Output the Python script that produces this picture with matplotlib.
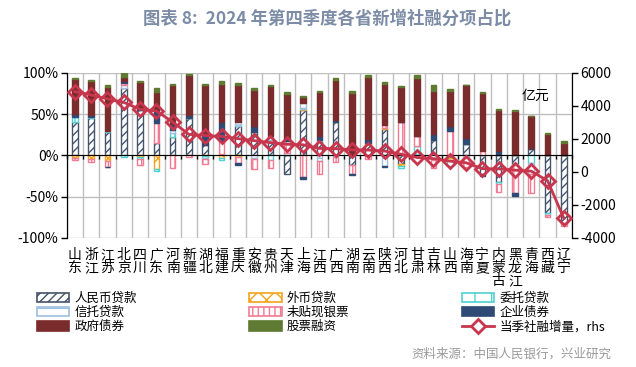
import numpy as np
import matplotlib
matplotlib.use('Agg')
import matplotlib.pyplot as plt
from matplotlib.patches import Patch
from matplotlib.lines import Line2D

plt.rcParams['font.family'] = ['Noto Sans CJK SC', 'DejaVu Sans']
plt.rcParams['axes.unicode_minus'] = False
plt.rcParams['hatch.linewidth'] = 1.0

# Data (share of new social financing, %; line in 亿元)
provinces = ['山东', '浙江', '江苏', '北京', '四川', '广东', '河南', '新疆', '湖北', '福建',
             '重庆', '安徽', '贵州', '天津', '上海', '江西', '广西', '湖南', '云南', '陕西',
             '河北', '甘肃', '吉林', '山西', '海南', '宁夏', '内蒙古', '黑龙江', '青海', '西藏', '辽宁']
rmb_loans = [41, 46, 28, 82, 55, 15, 22.5, 45, 13, 2, 36, 29, 19, -23, 55, 17, 40, -12, 14, 32,
             -10, 2, 19, -3, 14, -22, -32, -10, 8, -70, -82]
fx_loans = [-3, -4.5, -6.5, 0, -2, -16, 0, 0, -1, -3, -2, 0, 0, 0, 1.5, 0, 0, 0, 1, 1,
            -3, 0, 0, -3, 0, 0, 0, 0, 0, 0, 0]
entrusted = [6, 1, 1.5, -2, -2, -3, 5, 0, -2, -3, 0, 0, -5, 0, 0, 2, -2, 0, 0, 0,
             -2.5, 10, 0, -7, 0, 0, -2, -2, -9, -2, 0]
trust = [0, 0, 0, 3, 0, 0, 3, 0, -1, 0, 4, -4, 5, 3, 7.5, -7, 0, 0, 0, -13,
         0, 0, -5, 0, -3, 0, 0, 0, -14, 0, 0]
bills = [-3, -3, -7, 2.5, -7, 24.5, -15.5, -2, -6, 16, -7, -12, -10, 14, -25.5, -16, -6, -10, -4, 4,
         40, 11.5, -10, 30, -11, 6, -10, -34, -23, -2, -3]
corp_bonds = [3, 2, -1, 3, 1.5, 14, 8, 4, 12, 22, -3, 7, 0, 4, -2.4, 5, 3, -2, 5, -1,
              0, 0, 7, 6, 7, -3, 6, -3, 1.5, 0, 0]
gov_bonds = [42.5, 41, 54, 5, 32, 24, 47, 48.5, 60, 47, 45, 43.6, 60, 54, 6.5, 53, 49, 76, 75, 50,
             43, 70, 52, 42, 65, 70, 49, 54, 38, 26, 15.5]
equity = [2, 1.5, 2.5, 4, 1.2, 4, 1.2, 1, 2, 3, 3, 2.4, 2, 2, 1.8, 1.6, 1.5, 2.5, 2, 1.5,
          1.5, 4.5, 7, 3, 0, 0.5, 1.5, 1.5, 0.5, 1.5, 1.5]
tsf_total = [4870, 4670, 4430, 4220, 3800, 3700, 3030, 2280, 2210, 2160, 2020, 1900, 1780, 1680, 1650,
             1430, 1410, 1340, 1330, 1270, 1080, 880, 810, 660, 560, 200, 190, 110, 50, -530, -2810]

series = [
    ('人民币贷款', rmb_loans, dict(facecolor='white', edgecolor='#44546a', hatch='////')),
    ('外币贷款', fx_loans, dict(facecolor='white', edgecolor='#f5a31a', hatch='xx')),
    ('委托贷款', entrusted, dict(facecolor='white', edgecolor='#4fd1cf', hatch='|')),
    ('信托贷款', trust, dict(facecolor='white', edgecolor='#9dbfe0', hatch='-')),
    ('未贴现银票', bills, dict(facecolor='white', edgecolor='#f27b93', hatch='|||')),
    ('企业债券', corp_bonds, dict(facecolor='#2e4a75', edgecolor='#2e4a75', hatch=None)),
    ('政府债券', gov_bonds, dict(facecolor='#7a2b2b', edgecolor='#7a2b2b', hatch=None)),
    ('股票融资', equity, dict(facecolor='#5f7a32', edgecolor='#5f7a32', hatch=None)),
]

fig = plt.figure(figsize=(6.36, 3.67), dpi=100)
ax = fig.add_axes([0.1049, 0.3515, 0.7945, 0.4496])

x = np.arange(len(provinces))
pos_base = np.zeros(len(x))
neg_base = np.zeros(len(x))
handles = {}
for name, vals, style in series:
    v = np.array(vals, dtype=float)
    bottom = np.where(v >= 0, pos_base, neg_base)
    ax.bar(x, v, width=0.34, bottom=bottom, linewidth=1.0, zorder=3, **style)
    handles[name] = Patch(label=name, linewidth=1.2, **style)
    pos_base += np.where(v > 0, v, 0)
    neg_base += np.where(v < 0, v, 0)

ax.set_xlim(-0.5, len(x) - 0.5)
ax.set_ylim(-100, 100)
ax.set_yticks([-100, -50, 0, 50, 100])
ax.set_yticklabels(['-100%', '-50%', '0%', '50%', '100%'], fontsize=10)
ax.tick_params(axis='y', direction='out', length=4, width=1, pad=2)
ax.grid(axis='y', color='#bfbfbf', linewidth=1, zorder=0)
ax.set_axisbelow(True)
for b in np.arange(-0.5, len(x), 1.0):
    ax.axvline(b, color='#bfbfbf', linewidth=1, zorder=0)

# x axis sits on the zero line with small ticks between categories
ax.spines['bottom'].set_position(('data', 0))
ax.spines['bottom'].set_zorder(4)
ax.spines['top'].set_visible(False)
ax.set_xticks(np.arange(-0.5, len(x), 1.0))
ax.set_xticklabels([])
ax.tick_params(axis='x', direction='out', length=3, width=1)
for i, p in enumerate(provinces):
    ax.text(i, -0.06, '\n'.join(p), transform=ax.get_xaxis_transform(),
            ha='center', va='top', fontsize=10, linespacing=0.92)

ax2 = ax.twinx()
ax2.set_ylim(-4000, 6000)
ax2.set_yticks([-4000, -2000, 0, 2000, 4000, 6000])
ax2.tick_params(axis='y', direction='out', length=4, width=1, labelsize=10, pad=2)
ax2.spines['top'].set_visible(False)
ax2.spines['bottom'].set_visible(False)
line_style = dict(color='#c8364e', linewidth=2.0, marker='D', markersize=7,
                  markerfacecolor='none', markeredgecolor='#c8364e', markeredgewidth=2)
ax2.plot(x, tsf_total, zorder=5, **line_style)
ax2.text(0.955, 0.86, '亿元', transform=ax2.transAxes, ha='right', va='center', fontsize=10)

line_handle = Line2D([], [], label='当季社融增量，rhs',
                     **dict(line_style, markerfacecolor='white'))

# legend: three columns, filled column by column
order = ['人民币贷款', '信托贷款', '政府债券', '外币贷款', '未贴现银票', '股票融资', '委托贷款', '企业债券']
leg_handles = [handles[n] for n in order] + [line_handle]
fig.legend(handles=leg_handles, ncol=3, loc='upper left', bbox_to_anchor=(0.058, 0.205),
           frameon=False, fontsize=9, handlelength=2.6, handleheight=0.8, handletextpad=0.4,
           columnspacing=9.0, labelspacing=0.1, borderpad=0, borderaxespad=0)

fig.text(0.515, 0.948, '图表 8:  2024 年第四季度各省新增社融分项占比', ha='center', va='center',
         fontsize=12.5, fontweight='bold', color='#7c8ca6')
fig.text(0.962, 0.035, '资料来源：中国人民银行，兴业研究', ha='right', va='center',
         fontsize=9, color='#9a9a9a')

fig.savefig('out.png', dpi=100)
